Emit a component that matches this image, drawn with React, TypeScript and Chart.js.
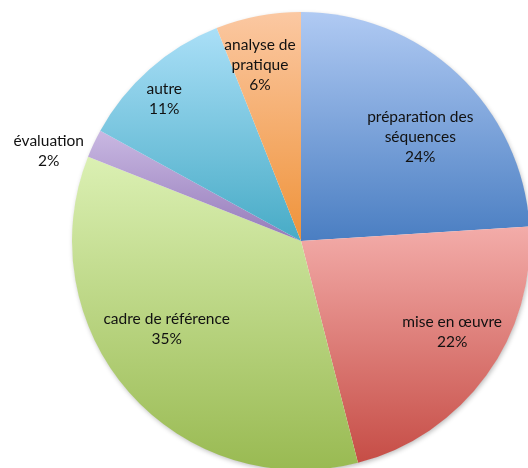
import React, { useEffect, useRef } from "react";
import { Chart, registerables } from "chart.js";

Chart.register(...registerables);

const categories = ["préparation des séquences", "mise en œuvre", "cadre de référence", "évaluation", "autre", "analyse de pratique"];
const labelLines = [["préparation des", "séquences"], ["mise en œuvre"], ["cadre de référence"], ["évaluation"], ["autre"], ["analyse de", "pratique"]];
const values = [24, 22, 35, 2, 11, 6];
const percentLabels = ["24%", "22%", "35%", "2%", "11%", "6%"];
const topColors = ["#b0caf3", "#f3aca9", "#dbf0b3", "#c9b8e2", "#aadff7", "#fbc8a2"];
const bottomColors = ["#4a7ec2", "#c64d46", "#99ba52", "#957bba", "#47abc6", "#ef933a"];

// label placement: [radius factor, angle offset in degrees]
const labelPlacement: [number, number][] = [[0.69, 5.8], [0.77, -5], [0.7, 8.3], [1.17, -5.5], [0.86, -2.6], [0.79, -2.3]];

function sliceGradient(ctx: any) {
  const chart = ctx.chart;
  const i = ctx.dataIndex;
  const area = chart.chartArea;
  if (!area || i === undefined) return bottomColors[i ?? 0];
  const cx = (area.left + area.right) / 2;
  const cy = (area.top + area.bottom) / 2;
  const r = Math.min(area.right - area.left, area.bottom - area.top) / 2;
  const total = values.reduce((a, b) => a + b, 0);
  let before = 0;
  for (let k = 0; k < i; k++) before += values[k];
  const a0 = -Math.PI / 2 + (before / total) * Math.PI * 2;
  const a1 = a0 + (values[i] / total) * Math.PI * 2;
  let minY = cy, maxY = cy;
  for (let s = 0; s <= 60; s++) {
    const a = a0 + ((a1 - a0) * s) / 60;
    const y = cy + r * Math.sin(a);
    minY = Math.min(minY, y);
    maxY = Math.max(maxY, y);
  }
  const g = chart.ctx.createLinearGradient(0, minY, 0, maxY);
  g.addColorStop(0, topColors[i]);
  g.addColorStop(1, bottomColors[i]);
  return g;
}

const shadowPlugin = {
  id: "pieShadow",
  beforeDatasetsDraw(chart: any) {
    const arc = chart.getDatasetMeta(0).data[0];
    if (!arc) return;
    const ctx = chart.ctx;
    ctx.save();
    ctx.shadowColor = "rgba(0,0,0,0.28)";
    ctx.shadowBlur = 5;
    ctx.shadowOffsetX = 1;
    ctx.shadowOffsetY = 2;
    ctx.fillStyle = "#ffffff";
    ctx.beginPath();
    ctx.arc(arc.x, arc.y, arc.outerRadius - 0.5, 0, Math.PI * 2);
    ctx.fill();
    ctx.restore();
  },
};

const labelPlugin = {
  id: "sliceLabels",
  afterDatasetsDraw(chart: any) {
    const ctx = chart.ctx;
    const meta = chart.getDatasetMeta(0);
    ctx.save();
    ctx.font = "15.5px Lato, 'Open Sans', sans-serif";
    ctx.fillStyle = "#111111";
    ctx.textAlign = "center";
    ctx.textBaseline = "middle";
    const lh = 20;
    meta.data.forEach((arc: any, i: number) => {
      const [f, off] = labelPlacement[i];
      const mid = (arc.startAngle + arc.endAngle) / 2 + (off * Math.PI) / 180;
      const x = arc.x + Math.cos(mid) * arc.outerRadius * f;
      const y = arc.y + Math.sin(mid) * arc.outerRadius * f;
      const lines = [...labelLines[i], percentLabels[i]];
      const y0 = y - ((lines.length - 1) * lh) / 2;
      lines.forEach((t, k) => ctx.fillText(t, x, y0 + k * lh));
    });
    ctx.restore();
  },
};

export default function App() {
  const ref = useRef<HTMLCanvasElement | null>(null);
  useEffect(() => {
    if (!ref.current) return;
    const chart = new Chart(ref.current, {
      type: "pie",
      data: {
        labels: categories,
        datasets: [
          {
            data: values,
            backgroundColor: sliceGradient as any,
            borderWidth: 0,
          },
        ],
      },
      options: {
        responsive: false,
        animation: false,
        layout: { padding: { left: 72, top: 12, right: 10, bottom: 10 } },
        plugins: { legend: { display: false }, tooltip: { enabled: false } },
      },
      plugins: [shadowPlugin, labelPlugin],
    });
    return () => chart.destroy();
  }, []);
  return (
    <div style={{ position: "fixed", left: 0, top: 0, width: 528, height: 468, overflow: "hidden", background: "#fff" }}>
      <canvas ref={ref} width={540} height={480} style={{ width: 540, height: 480, display: "block" }} />
    </div>
  );
}
